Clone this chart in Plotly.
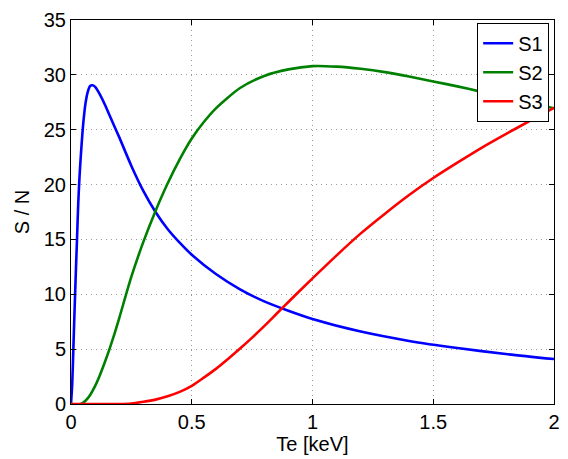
import plotly.graph_objects as go

# Electron temperature [keV] and signal-to-noise for each channel
te_s1 = [0, 0.005, 0.01, 0.015, 0.02, 0.025, 0.03, 0.035, 0.04, 0.05, 0.06, 0.07,
         0.08, 0.09, 0.1, 0.12, 0.14, 0.16, 0.18, 0.2, 0.25, 0.3, 0.35, 0.4, 0.45,
         0.5, 0.6, 0.7, 0.8, 0.9, 1.0, 1.2, 1.4, 1.6, 1.8, 2.0]
sn_s1 = [0, 1.8, 5.2, 8.7, 12.0, 15.1, 18.3, 20.6, 22.4, 25.4, 27.4, 28.5,
         29.0, 29.05, 28.9, 28.2, 27.3, 26.3, 25.3, 24.3, 21.7, 19.4, 17.5, 15.95, 14.7,
         13.6, 11.85, 10.45, 9.35, 8.5, 7.75, 6.6, 5.75, 5.1, 4.55, 4.1]

te_s2 = [0, 0.04, 0.06, 0.08, 0.1, 0.12, 0.14, 0.16, 0.18, 0.2, 0.25, 0.3, 0.35,
         0.4, 0.45, 0.5, 0.55, 0.6, 0.7, 0.8, 0.9, 1.0, 1.1, 1.2, 1.3, 1.4, 1.5,
         1.6, 1.7, 1.8, 1.9, 2.0]
sn_s2 = [0, 0, 0.3, 0.85, 1.65, 2.65, 3.8, 5.05, 6.4, 7.85, 11.6, 14.8, 17.6,
         20.1, 22.3, 24.2, 25.7, 26.95, 28.8, 29.9, 30.5, 30.8, 30.75, 30.55, 30.25, 29.85, 29.4,
         28.95, 28.45, 27.95, 27.45, 26.95]

te_s3 = [0, 0.2, 0.25, 0.3, 0.35, 0.4, 0.45, 0.5, 0.55, 0.6, 0.65, 0.7, 0.75,
         0.8, 0.85, 0.9, 1.0, 1.1, 1.2, 1.3, 1.4, 1.5, 1.6, 1.7, 1.8, 1.9, 2.0]
sn_s3 = [0, 0, 0.05, 0.2, 0.4, 0.7, 1.1, 1.65, 2.4, 3.2, 4.1, 5.05, 6.05,
         7.1, 8.2, 9.3, 11.45, 13.55, 15.55, 17.35, 19.05, 20.6, 22.0, 23.35, 24.6, 25.8, 27.0]

x_ticks = [0, 0.5, 1, 1.5, 2]
x_tick_text = ["0", "0.5", "1", "1.5", "2"]
y_ticks = [0, 5, 10, 15, 20, 25, 30, 35]

series = [
    ("S1", te_s1, sn_s1, "#0000FF"),
    ("S2", te_s2, sn_s2, "#008000"),
    ("S3", te_s3, sn_s3, "#FF0000"),
]

fig = go.Figure()
for name, xs, ys, color in series:
    fig.add_trace(go.Scatter(
        x=xs, y=ys, name=name, mode="lines",
        line=dict(color=color, width=2.6, shape="spline", smoothing=0.7),
    ))

font = dict(family="Liberation Sans, Arial, sans-serif", size=20, color="black")

axis_common = dict(
    showline=True, linecolor="black", linewidth=1, mirror="ticks",
    ticks="inside", ticklen=5, tickcolor="black",
    showgrid=True, gridcolor="#9a9a9a", griddash="1px,4px", gridwidth=1,
    zeroline=False, tickfont=font,
)

fig.update_layout(
    width=568, height=459,
    margin=dict(l=71, r=8, t=20, b=55),
    paper_bgcolor="white", plot_bgcolor="white",
    font=font,
    xaxis=dict(range=[0, 2], tickvals=x_ticks, ticktext=x_tick_text,
               title=dict(text="Te [keV]", font=font, standoff=2), **axis_common),
    yaxis=dict(range=[0, 35], tickvals=y_ticks,
               title=dict(text="S / N", font=font, standoff=8), **axis_common),
    legend=dict(
        x=0.99, y=0.993, xanchor="right", yanchor="top",
        bgcolor="white", bordercolor="black", borderwidth=1,
        font=font, tracegroupgap=0,
    ),
    showlegend=True,
)

fig.write_html("out.html")
